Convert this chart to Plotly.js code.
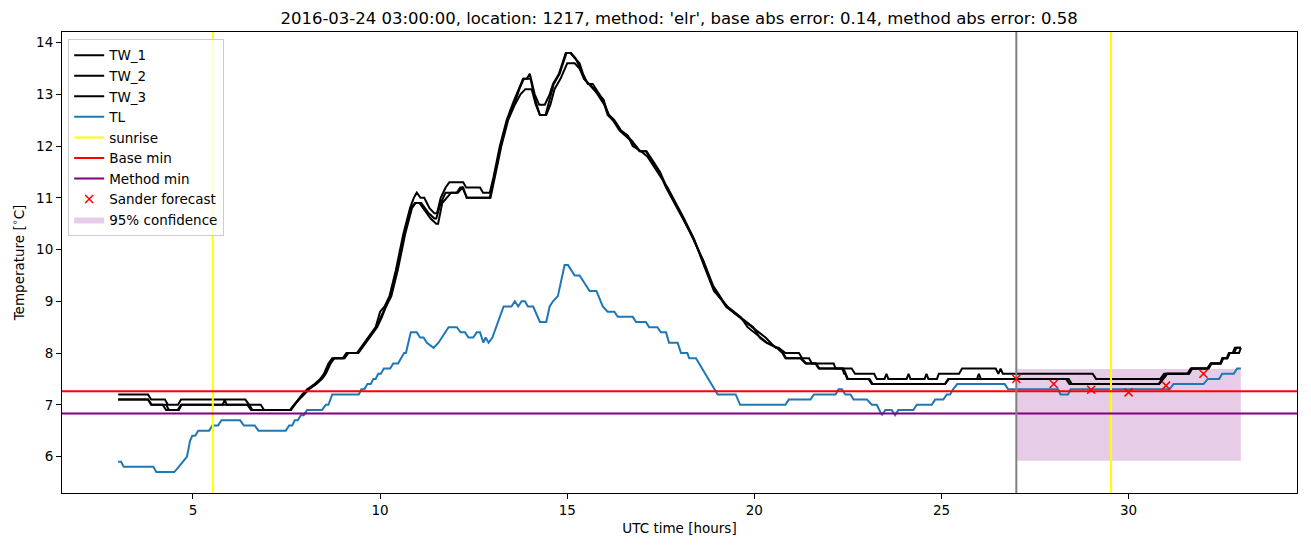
<!DOCTYPE html>
<html>
<head>
<meta charset="utf-8">
<script src="https://cdn.plot.ly/plotly-3.0.1.min.js"></script>
<style>html,body{margin:0;padding:0;background:#fff;}#chart{width:1311px;height:547px;}</style>
</head>
<body>
<div id="chart"></div>
<script>
// ---------------- data ----------------
const tw1Hours = [3.0,3.8,3.88,4.25,4.33,4.6,4.68,6.4,6.5,6.59,7.6,7.7,7.8,7.92,8.05,8.25,8.4,8.5,8.62,8.72,9.0,9.1,9.38,9.48,9.58,9.68,9.88,10.0,10.12,10.25,10.42,10.62,10.8,10.9,10.98,11.08,11.18,11.32,11.45,11.52,11.62,11.75,11.85,12.22,12.3,12.67,12.75,12.93,13.03,13.2,13.38,13.56,13.7,13.82,13.92,14.0,14.13,14.25,14.4,14.53,14.62,14.78,14.96,15.08,15.2,15.33,15.42,15.55,15.68,15.95,16.08,16.22,16.4,16.57,16.71,16.93,17.1,17.28,17.46,17.64,18.08,18.35,18.61,18.88,19.24,19.41,19.59,19.77,19.95,20.12,20.3,20.57,20.65,20.83,21.19,21.28,21.46,21.54,22.12,22.17,22.6,22.69,23.2,23.27,23.48,23.53,23.58,24.07,24.12,24.17,24.55,24.6,24.65,24.88,24.93,25.47,25.55,26.45,26.52,26.58,26.64,29.04,29.13,30.85,30.95,31.57,31.66,32.1,32.19,32.46,32.52,32.64,32.7,32.78,32.84,33.0];
const tw1Values = [7.2,7.2,7.1,7.1,7.0,7.0,7.1,7.1,7.0,6.9,6.9,7.0,7.1,7.2,7.3,7.4,7.5,7.6,7.8,7.9,7.9,8.0,8.0,8.1,8.2,8.3,8.5,8.8,8.9,9.1,9.6,10.3,10.8,11.0,11.1,11.0,11.0,10.8,10.7,10.7,11.0,11.2,11.3,11.3,11.2,11.2,11.1,11.1,11.4,12.0,12.5,12.85,13.1,13.3,13.3,13.4,13.0,12.8,12.8,13.0,13.2,13.4,13.8,13.8,13.7,13.6,13.4,13.2,13.2,12.9,12.6,12.5,12.3,12.2,12.1,11.9,11.9,11.7,11.5,11.2,10.6,10.25,9.8,9.3,8.9,8.8,8.7,8.6,8.5,8.4,8.3,8.1,8.1,8.0,8.0,7.9,7.9,7.8,7.8,7.7,7.7,7.6,7.6,7.5,7.5,7.6,7.5,7.5,7.6,7.5,7.5,7.6,7.5,7.5,7.6,7.6,7.7,7.7,7.6,7.7,7.6,7.6,7.5,7.5,7.6,7.6,7.7,7.7,7.8,7.8,7.9,7.9,8.0,8.0,8.1,8.1];

const tw2Hours = [3.0,3.8,3.88,4.19,4.28,4.59,4.68,5.79,5.85,5.9,6.81,6.9,7.62,7.72,7.82,7.95,8.08,8.28,8.42,8.53,8.65,8.76,9.03,9.13,9.4,9.5,9.6,9.7,9.9,10.02,10.14,10.28,10.45,10.65,10.83,10.93,11.0,11.1,11.3,11.45,11.5,11.62,11.75,11.85,12.05,12.14,12.22,12.31,12.93,13.05,13.22,13.4,13.58,13.72,13.84,13.96,14.02,14.14,14.27,14.42,14.53,14.64,14.8,14.98,15.1,15.22,15.35,15.45,15.58,15.7,15.97,16.1,16.24,16.42,16.6,16.73,16.95,17.12,17.3,17.48,17.66,18.1,18.37,18.63,18.9,19.26,19.43,19.61,19.8,19.97,20.14,20.32,20.6,20.75,20.83,21.23,21.37,21.63,21.72,22.35,22.4,22.43,22.48,23.05,23.14,25.09,25.18,25.95,26.0,26.05,28.33,28.42,30.8,30.9,31.0,31.6,31.68,32.12,32.2,32.45,32.5,32.62,32.68,32.95,33.0];
const tw2Values = [7.1,7.1,7.0,7.0,6.9,6.9,7.0,7.0,7.1,7.0,7.0,6.9,6.9,7.0,7.1,7.2,7.3,7.4,7.5,7.6,7.8,7.9,7.9,8.0,8.0,8.1,8.2,8.3,8.5,8.7,8.9,9.1,9.6,10.3,10.8,10.9,10.9,10.9,10.7,10.6,10.6,10.9,11.1,11.1,11.1,11.2,11.2,11.0,11.0,11.4,12.0,12.5,12.8,13.1,13.3,13.3,13.3,12.9,12.6,12.6,12.9,13.2,13.4,13.8,13.8,13.7,13.5,13.3,13.2,13.1,12.9,12.6,12.5,12.3,12.2,12.1,11.9,11.9,11.7,11.5,11.2,10.6,10.2,9.8,9.3,8.9,8.8,8.7,8.6,8.5,8.3,8.2,8.1,8.0,7.9,7.9,7.8,7.8,7.7,7.7,7.6,7.6,7.5,7.5,7.4,7.4,7.5,7.5,7.6,7.5,7.5,7.4,7.4,7.5,7.6,7.6,7.7,7.7,7.8,7.8,7.9,7.9,8.0,8.0,8.1];

const tw3Hours = [3.0,3.8,3.9,4.28,4.36,4.62,4.7,6.45,6.55,7.6,7.7,7.83,7.96,8.1,8.3,8.45,8.55,8.68,8.78,9.05,9.15,9.42,9.52,9.62,9.72,9.92,10.05,10.16,10.3,10.47,10.67,10.85,10.95,11.05,11.15,11.35,11.5,11.55,11.66,11.78,11.9,12.08,12.2,12.26,12.33,12.95,13.07,13.24,13.42,13.6,13.75,13.88,13.98,14.05,14.16,14.27,14.44,14.55,14.66,14.82,15.0,15.2,15.33,15.45,15.58,15.72,15.99,16.12,16.26,16.44,16.62,16.75,16.97,17.14,17.32,17.5,17.68,18.12,18.39,18.65,18.92,19.28,19.45,19.63,19.82,19.99,20.16,20.34,20.62,20.77,20.85,21.25,21.39,21.65,21.74,22.38,22.44,22.5,23.08,23.16,25.1,25.2,28.4,28.48,30.82,30.92,31.04,31.62,31.7,32.14,32.22,32.47,32.53,32.64,32.7,32.82,32.88,33.0];
const tw3Values = [7.1,7.1,7.0,7.0,6.9,6.9,7.0,7.0,6.9,6.9,7.0,7.1,7.2,7.3,7.4,7.5,7.6,7.8,7.9,7.9,8.0,8.0,8.1,8.2,8.3,8.5,8.7,8.9,9.1,9.6,10.3,10.8,10.9,10.9,10.8,10.6,10.5,10.5,10.9,11.0,11.1,11.1,11.2,11.1,11.0,11.0,11.4,12.0,12.5,12.8,13.0,13.1,13.1,13.1,12.8,12.6,12.6,12.8,13.1,13.3,13.6,13.6,13.5,13.3,13.2,13.1,12.8,12.6,12.5,12.3,12.2,12.0,11.9,11.8,11.6,11.4,11.2,10.6,10.2,9.7,9.2,8.9,8.8,8.7,8.5,8.4,8.3,8.2,8.1,8.0,7.9,7.9,7.8,7.8,7.7,7.7,7.6,7.5,7.5,7.4,7.4,7.5,7.5,7.4,7.4,7.5,7.6,7.6,7.7,7.7,7.8,7.8,7.9,7.9,8.0,8.0,8.1,8.1];

const tlHours = [3.0,3.08,3.15,3.94,4.02,4.5,4.62,4.72,4.84,4.92,4.98,5.06,5.14,5.43,5.52,5.67,5.76,6.26,6.36,6.65,6.75,7.48,7.57,7.65,7.72,7.8,7.88,7.96,8.05,8.45,8.55,8.62,8.72,9.43,9.5,9.58,9.66,9.75,9.82,9.88,9.95,10.02,10.1,10.27,10.35,10.48,10.56,10.64,10.69,10.82,10.98,11.07,11.16,11.25,11.43,11.56,11.65,11.74,11.83,12.05,12.15,12.27,12.36,12.49,12.58,12.67,12.76,12.82,12.9,13.0,13.2,13.3,13.51,13.6,13.69,13.78,13.87,13.95,14.09,14.27,14.44,14.53,14.62,14.75,14.93,15.02,15.2,15.33,15.6,15.78,15.95,16.08,16.26,16.35,16.75,16.84,17.1,17.19,17.41,17.5,17.64,17.72,17.95,18.04,18.21,18.26,18.44,18.93,19.02,19.5,19.62,20.83,20.92,21.5,21.59,22.17,22.25,22.34,22.43,22.57,22.65,23.01,23.14,23.27,23.41,23.5,23.67,23.76,23.85,24.25,24.34,24.74,24.83,25.05,25.14,25.23,25.31,25.42,26.69,26.78,28.12,28.18,28.38,28.45,31.09,31.2,32.0,32.12,32.42,32.5,32.81,32.9,33.0];
const tlValues = [5.9,5.9,5.8,5.8,5.7,5.7,5.8,5.9,6.0,6.3,6.4,6.4,6.5,6.5,6.6,6.6,6.7,6.7,6.6,6.6,6.5,6.5,6.6,6.6,6.7,6.7,6.8,6.8,6.9,6.9,7.0,7.0,7.2,7.2,7.3,7.3,7.4,7.4,7.5,7.5,7.6,7.6,7.7,7.7,7.8,7.8,7.9,8.0,8.0,8.4,8.4,8.3,8.3,8.2,8.1,8.2,8.3,8.4,8.5,8.5,8.4,8.4,8.3,8.3,8.4,8.4,8.2,8.3,8.2,8.3,8.7,8.9,8.9,9.0,8.9,9.0,9.0,8.9,8.9,8.6,8.6,8.9,9.0,9.1,9.7,9.7,9.5,9.5,9.2,9.2,8.9,8.8,8.8,8.7,8.7,8.6,8.6,8.5,8.5,8.4,8.4,8.2,8.2,8.0,8.0,7.9,7.9,7.3,7.2,7.2,7.0,7.0,7.1,7.1,7.2,7.2,7.3,7.3,7.2,7.2,7.1,7.1,7.0,7.0,6.8,6.9,6.9,6.8,6.9,6.9,7.0,7.0,7.1,7.1,7.2,7.2,7.3,7.4,7.4,7.3,7.3,7.2,7.2,7.3,7.3,7.4,7.4,7.5,7.5,7.6,7.6,7.7,7.7];

const sunriseHours = [5.53, 29.53];
const forecastStart = 27.0;
const baseMin = 7.26;
const methodMin = 6.83;
const sanderHours = [27, 28, 29, 30, 31, 32];
const sanderValues = [7.50, 7.40, 7.29, 7.24, 7.37, 7.60];
const confHours = [27.0, 33.0];
const confLow = 5.92;
const confHigh = 7.69;

const xTicks = [5, 10, 15, 20, 25, 30];
const yTicks = [6, 7, 8, 9, 10, 11, 12, 13, 14];
const xRange = [1.5, 34.5];
const yRange = [5.295, 14.205];

const titleText = "2016-03-24 03:00:00, location: 1217, method: 'elr', base abs error: 0.14, method abs error: 0.58";

// ---------------- traces ----------------
const font = "DejaVu Sans, sans-serif";
function vlineXs(hs){ const xs=[]; hs.forEach((h,i)=>{ if(i) xs.push(null); xs.push(h,h); }); return xs; }
function vlineYs(hs){ const ys=[]; hs.forEach((h,i)=>{ if(i) ys.push(null); ys.push(yRange[0],yRange[1]); }); return ys; }

const traces = [
  {x:[confHours[0],confHours[1],confHours[1],confHours[0],confHours[0]],
   y:[confLow,confLow,confHigh,confHigh,confLow],
   mode:'lines', fill:'toself', fillcolor:'rgba(128,0,128,0.2)', line:{width:0},
   name:'95% confidence', legendrank:9, hoverinfo:'skip'},
  {x:tw1Hours, y:tw1Values, mode:'lines', line:{color:'black', width:2}, name:'TW_1', legendrank:1},
  {x:tw2Hours, y:tw2Values, mode:'lines', line:{color:'black', width:2}, name:'TW_2', legendrank:2},
  {x:tw3Hours, y:tw3Values, mode:'lines', line:{color:'black', width:2}, name:'TW_3', legendrank:3},
  {x:tlHours, y:tlValues, mode:'lines', line:{color:'#1f77b4', width:2}, name:'TL', legendrank:4},
  {x:vlineXs(sunriseHours), y:vlineYs(sunriseHours), mode:'lines', line:{color:'yellow', width:2}, name:'sunrise', legendrank:5},
  {x:[xRange[0], xRange[1]], y:[baseMin, baseMin], mode:'lines', line:{color:'red', width:2}, name:'Base min', legendrank:6},
  {x:[xRange[0], xRange[1]], y:[methodMin, methodMin], mode:'lines', line:{color:'purple', width:2}, name:'Method min', legendrank:7},
  {x:[forecastStart, forecastStart], y:[yRange[0], yRange[1]], mode:'lines', line:{color:'gray', width:2}, showlegend:false},
  {x:sanderHours, y:sanderValues, mode:'markers', marker:{symbol:'x-thin', size:8, color:'red', line:{color:'red', width:1.5}}, name:'Sander forecast', legendrank:8}
];

const axisCommon = {
  showgrid:false, zeroline:false, showline:true, linecolor:'black', linewidth:1, mirror:true,
  ticks:'outside', ticklen:5, tickwidth:1, tickcolor:'black',
  tickfont:{family:font, size:13.5, color:'black'}
};

const layout = {
  width:1311, height:547,
  paper_bgcolor:'white', plot_bgcolor:'white',
  margin:{l:62, r:14, t:32, b:54},
  font:{family:font, color:'black'},
  title:{text:titleText, font:{family:font, size:16.5, color:'black'}, x:0.518, xanchor:'center', y:0.967, yanchor:'middle', yref:'container'},
  xaxis:Object.assign({}, axisCommon, {range:xRange, tickvals:xTicks, ticktext:xTicks.map(String),
    title:{text:'UTC time [hours]', font:{family:font, size:13.5, color:'black'}, standoff:6}}),
  yaxis:Object.assign({}, axisCommon, {range:yRange, tickvals:yTicks, ticktext:yTicks.map(String),
    title:{text:'Temperature [<sup>∘</sup>C]', font:{family:font, size:13.5, color:'black'}, standoff:8}}),
  showlegend:true,
  legend:{x:0.005, y:0.985, xanchor:'left', yanchor:'top', bgcolor:'rgba(255,255,255,0.8)',
    bordercolor:'#cccccc', borderwidth:1, font:{family:font, size:13.5, color:'black'}, itemwidth:30, traceorder:'normal'}
};

Plotly.newPlot('chart', traces, layout, {displayModeBar:false, staticPlot:true});
</script>
</body>
</html>
